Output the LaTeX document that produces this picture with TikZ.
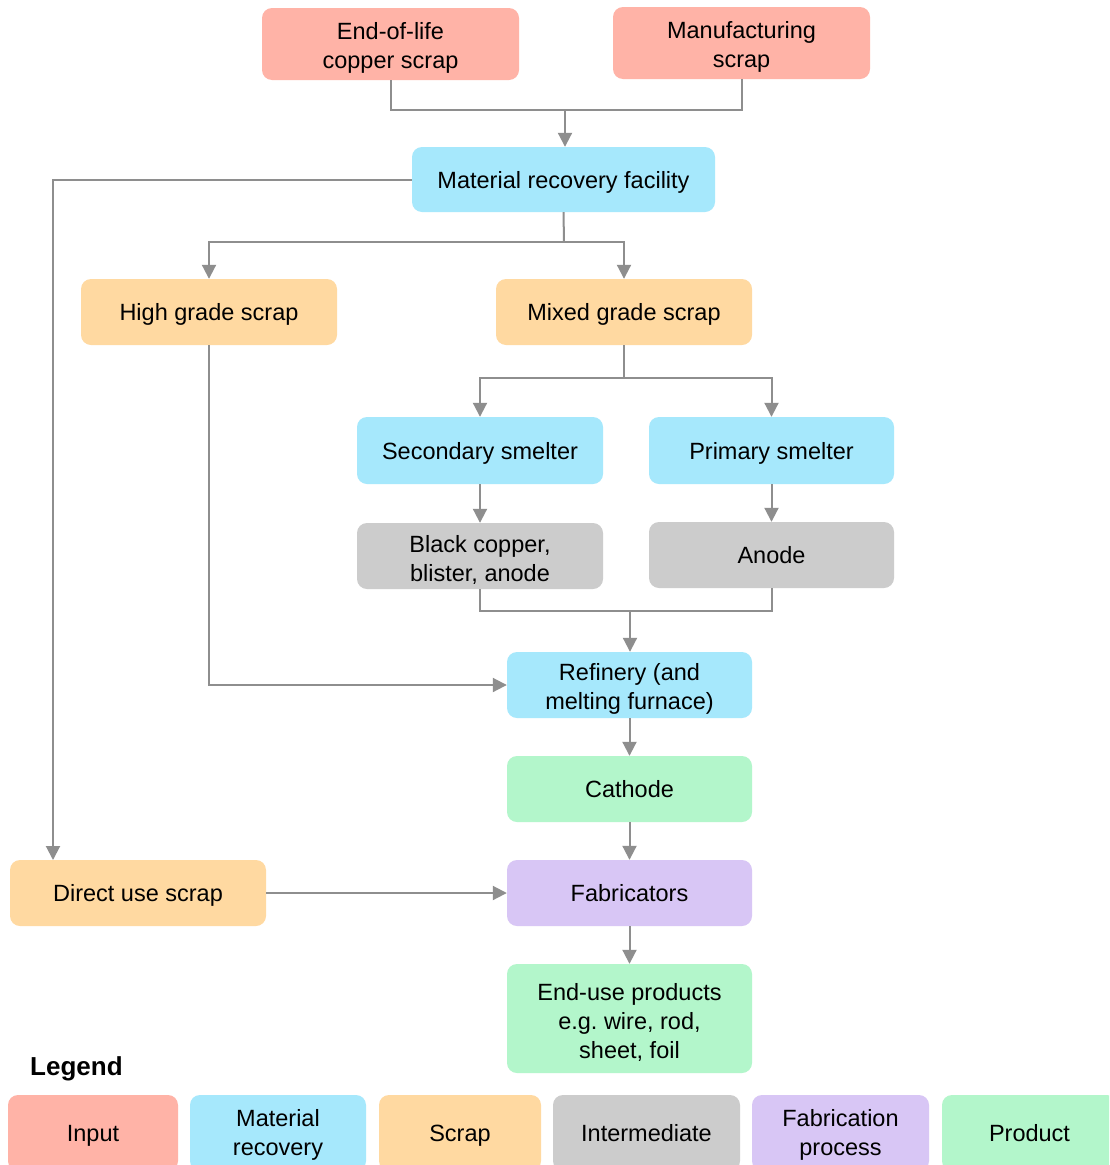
\documentclass[tikz,border=0pt]{standalone}
\usepackage{fontspec}
\setmainfont{Liberation Sans}
\usetikzlibrary{arrows.meta}
\frenchspacing
\definecolor{cin}{HTML}{FFB3A7}
\definecolor{cmr}{HTML}{A6E8FC}
\definecolor{csc}{HTML}{FFD9A1}
\definecolor{cint}{HTML}{CCCCCC}
\definecolor{cfab}{HTML}{D8C6F5}
\definecolor{cprod}{HTML}{B3F6CB}
\definecolor{lgray}{HTML}{8E8E8E}
\begin{document}
\begin{tikzpicture}[x=1pt,y=-1pt,
 box/.style={rectangle, rounded corners=10pt, inner sep=0pt},
 txt/.style={align=center, inner sep=0pt, text depth=0pt,
   font=\fontsize{23.5}{29}\selectfont},
 mtxt/.style={align=center, inner sep=0pt, yshift=-3.5pt,
   font=\fontsize{23.5}{29}\selectfont},
 conn/.style={draw=lgray, line width=2pt},
 arr/.style={conn, -{Triangle[length=14pt,width=14pt]}}]
\clip (0,0) rectangle (1109,1165);
\fill[white] (0,0) rectangle (1109,1165);
% boxes
\node[box, fill=cin, minimum width=257pt, minimum height=72pt] (eol) at (390.5,44) {};
\node[mtxt] (eolt) at (eol) {End-of-life\\copper scrap};
\node[box, fill=cin, minimum width=257pt, minimum height=72pt] (mfg) at (741.5,43) {};
\node[mtxt] (mfgt) at (mfg) {Manufacturing\\scrap};
\node[box, fill=cmr, minimum width=303pt, minimum height=65pt] (mrf) at (563.5,179.5) {};
\node[txt] (mrft) at (mrf) {Material recovery facility};
\node[box, fill=csc, minimum width=256pt, minimum height=66pt] (hg) at (209,312) {};
\node[txt] (hgt) at (hg) {High grade scrap};
\node[box, fill=csc, minimum width=256pt, minimum height=66pt] (mg) at (624,312) {};
\node[txt] (mgt) at (mg) {Mixed grade scrap};
\node[box, fill=cmr, minimum width=246pt, minimum height=67pt] (ss) at (480,450.5) {};
\node[txt] (sst) at (ss) {Secondary smelter};
\node[box, fill=cmr, minimum width=245pt, minimum height=67pt] (ps) at (771.5,450.5) {};
\node[txt] (pst) at (ps) {Primary smelter};
\node[box, fill=cint, minimum width=246pt, minimum height=66pt] (bc) at (480,556) {};
\node[mtxt] (bct) at (bc) {Black copper,\\blister, anode};
\node[box, fill=cint, minimum width=245pt, minimum height=66pt] (an) at (771.5,555) {};
\node[txt] (ant) at (an) {Anode};
\node[box, fill=cmr, minimum width=245pt, minimum height=66pt] (ref) at (629.5,685) {};
\node[mtxt] (reft) at (ref) {Refinery (and\\melting furnace)};
\node[box, fill=cprod, minimum width=245pt, minimum height=66pt] (cat) at (629.5,789) {};
\node[txt] (catt) at (cat) {Cathode};
\node[box, fill=cfab, minimum width=245pt, minimum height=66pt] (fab) at (629.5,893) {};
\node[txt] (fabt) at (fab) {Fabricators};
\node[box, fill=csc, minimum width=256pt, minimum height=66pt] (dus) at (138,893) {};
\node[txt] (dust) at (dus) {Direct use scrap};
\node[box, fill=cprod, minimum width=245pt, minimum height=109pt] (eu) at (629.5,1018.5) {};
\node[mtxt] (eut) at (eu) {End-use products\\e.g. wire, rod,\\sheet, foil};
% connectors
\coordinate (j1) at (565,110);
\draw[conn] (eol.south) |- (j1) -| (mfg.south);
\draw[arr] (j1) -- (j1 |- mrf.north);
\coordinate (dl) at (53,860);
\draw[arr] (mrf.west) -| (dl);
\coordinate (j2) at (564,242);
\draw[conn] (mrf.south) -- (j2);
\draw[arr] (j2) -| (hg.north);
\draw[arr] (j2) -| (mg.north);
\coordinate (j3) at (624,378);
\draw[conn] (mg.south) -- (j3);
\draw[arr] (j3) -| (ss.north);
\draw[arr] (j3) -| (ps.north);
\draw[arr] (ss.south) -- (bc.north);
\draw[arr] (ps.south) -- (an.north);
\coordinate (j4) at (630,611);
\draw[conn] (bc.south) |- (j4) -| (an.south);
\draw[arr] (j4) -- (j4 |- ref.north);
\draw[arr] (hg.south) |- (ref.west);
\draw[arr] (ref.south) -- (cat.north);
\draw[arr] (cat.south) -- (fab.north);
\draw[arr] (dus.east) -- (fab.west);
\draw[arr] (fab.south) -- (eu.north);
% legend
\node[font=\fontsize{26}{30}\selectfont\bfseries, anchor=west, inner sep=0pt] (leg) at (30,1068.5) {Legend};
\node[box, fill=cin, minimum width=170pt, minimum height=76pt] (l1) at (93,1133) {};
\node[txt] (l1t) at (l1) {Input};
\node[box, fill=cmr, minimum width=176pt, minimum height=76pt] (l2) at (278,1133) {};
\node[mtxt] (l2t) at ([yshift=1.5pt]l2.center) {Material\\recovery};
\node[box, fill=csc, minimum width=162pt, minimum height=76pt] (l3) at (460,1133) {};
\node[txt] (l3t) at (l3) {Scrap};
\node[box, fill=cint, minimum width=187pt, minimum height=76pt] (l4) at (646.5,1133) {};
\node[txt] (l4t) at (l4) {Intermediate};
\node[box, fill=cfab, minimum width=177pt, minimum height=76pt] (l5) at (840.5,1133) {};
\node[mtxt] (l5t) at ([yshift=1.5pt]l5.center) {Fabrication\\process};
\node[box, fill=cprod, minimum width=175pt, minimum height=76pt] (l6) at (1029.5,1133) {};
\node[txt] (l6t) at (l6) {Product};
\end{tikzpicture}
\end{document}
